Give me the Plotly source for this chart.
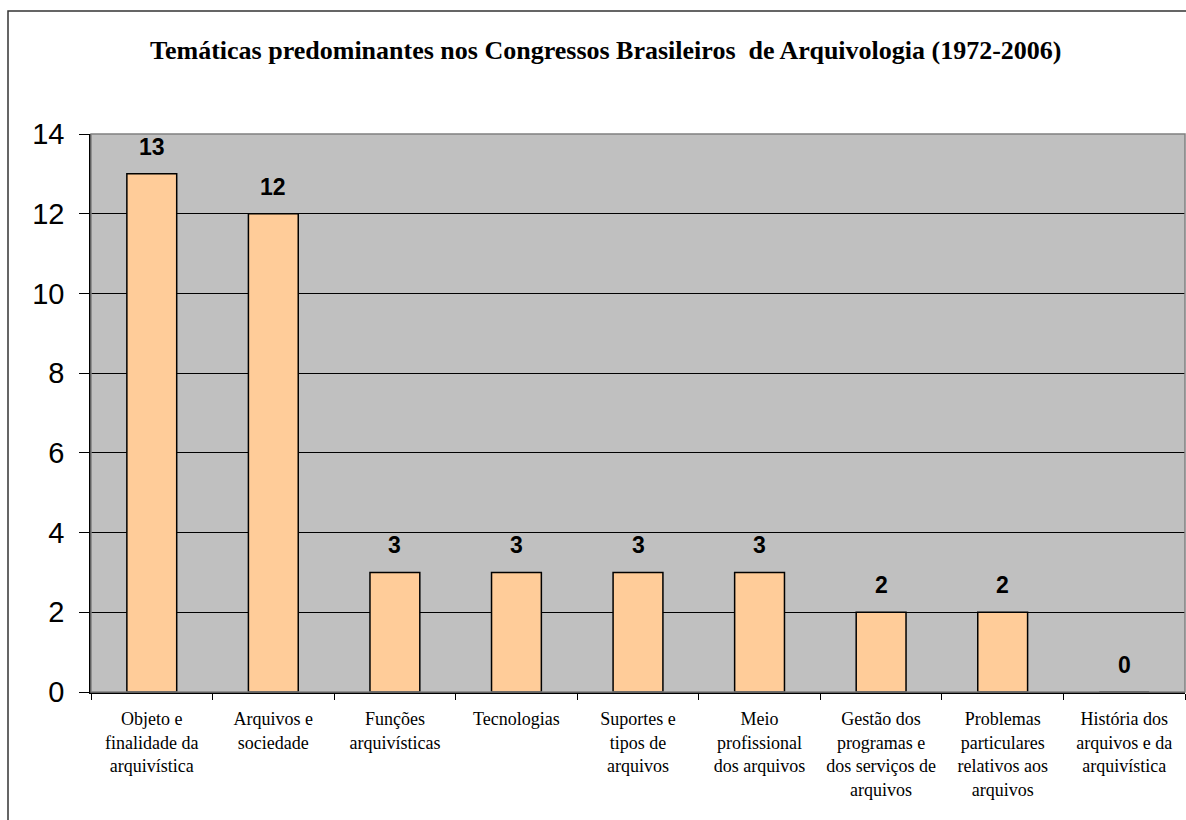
import plotly.graph_objects as go

# Thematic categories (each entry split into the lines shown under the axis)
category_lines = [
    ["Objeto e", "finalidade da", "arquivística"],
    ["Arquivos e", "sociedade"],
    ["Funções", "arquivísticas"],
    ["Tecnologias"],
    ["Suportes e", "tipos de", "arquivos"],
    ["Meio", "profissional", "dos arquivos"],
    ["Gestão dos", "programas e", "dos serviços de", "arquivos"],
    ["Problemas", "particulares", "relativos aos", "arquivos"],
    ["História dos", "arquivos e da", "arquivística"],
]
counts = [13, 12, 3, 3, 3, 3, 2, 2, 0]
y_ticks = [0, 2, 4, 6, 8, 10, 12, 14]
title_text = "Temáticas predominantes nos Congressos Brasileiros  de Arquivologia (1972-2006)"

categories = ["<br>".join(lines) for lines in category_lines]

SERIF = "Liberation Serif"
SANS = "Liberation Sans"

W, H = 1186, 820
L, R, T, B = 91, 1, 134, 128
plot_w = W - L - R
plot_h = H - T - B


def px_x(px):
    return (px - L) / plot_w


def px_y(py):
    return (H - B - py) / plot_h


fig = go.Figure()
fig.add_trace(go.Bar(
    x=categories,
    y=counts,
    marker=dict(color="#FFCC99", line=dict(color="#000000", width=1.5)),
    hoverinfo="skip",
))

# value labels above each bar
value_labels = [
    dict(
        x=cat, y=val, xref="x", yref="y",
        text="<b>%d</b>" % val,
        showarrow=False,
        xanchor="center", yanchor="bottom",
        yshift=12,
        font=dict(family=SANS, size=23, color="#000000"),
    )
    for cat, val in zip(categories, counts)
]

title_ann = dict(
    text="<b>" + title_text + "</b>",
    xref="paper", yref="paper",
    x=px_x(606), y=px_y(51),
    xanchor="center", yanchor="middle",
    showarrow=False,
    font=dict(family=SERIF, size=26, color="#000000"),
)

fig.update_layout(
    width=W,
    height=H,
    margin=dict(l=L, r=R, t=T, b=B),
    paper_bgcolor="#FFFFFF",
    plot_bgcolor="#C0C0C0",
    showlegend=False,
    bargap=0.59,
    annotations=value_labels + [title_ann],
    shapes=[
        # chart frame
        dict(type="rect", xref="paper", yref="paper",
             x0=px_x(8), x1=px_x(1200), y0=px_y(830), y1=px_y(11),
             line=dict(color="#333333", width=1.5), layer="below"),
        # plot area frame
        dict(type="rect", xref="paper", yref="paper",
             x0=0, x1=1, y0=0, y1=1,
             line=dict(color="#808080", width=1.5), layer="above"),
    ],
)

fig.update_xaxes(
    type="category",
    tickson="boundaries",
    ticks="outside",
    ticklen=6,
    tickcolor="#000000",
    ticklabelstandoff=10,
    showline=True,
    linecolor="#000000",
    linewidth=1.5,
    showgrid=False,
    tickangle=0,
    tickfont=dict(family=SERIF, size=18, color="#000000"),
)

fig.update_yaxes(
    range=[0, 14],
    tickvals=y_ticks,
    ticks="outside",
    ticklen=10,
    tickcolor="#000000",
    ticklabelstandoff=9,
    showline=True,
    linecolor="#000000",
    linewidth=1.5,
    showgrid=True,
    gridcolor="#000000",
    gridwidth=1,
    zeroline=False,
    tickfont=dict(family=SANS, size=29, color="#000000"),
)

fig.write_html("out.html")
